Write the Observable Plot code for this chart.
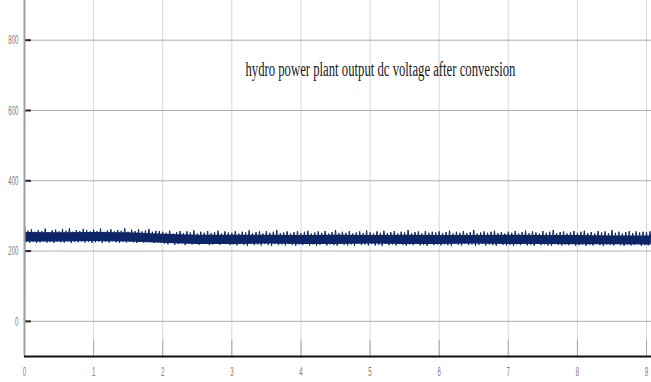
<!DOCTYPE html>
<html>
<head>
<meta charset="utf-8">
<script src="https://cdn.jsdelivr.net/npm/d3@7"></script>
<script src="https://cdn.jsdelivr.net/npm/@observablehq/plot@0.6"></script>
<style>
  html, body { margin: 0; padding: 0; background: #fff; }
  #chart svg { display: block; -webkit-font-smoothing: antialiased; }
</style>
</head>
<body>
<div id="chart"></div>
<script>
// ---- data ----
const titleText = "hydro power plant output dc voltage after conversion";
const xTicks = [0, 1, 2, 3, 4, 5, 6, 7, 8, 9];
const yTicks = [0, 200, 400, 600, 800];

// start-up transient (time s, voltage V)
const startT = [0, 0.004];
const startV = [0, 270];

// dense core of the ripple band (time, lower edge, upper edge)
const coreT    = [0, 0.5, 1, 1.5, 2, 2.5, 3, 3.5, 4, 4.5, 5, 5.5, 6, 6.5, 7, 7.5, 8, 8.5, 9, 9.07];
const coreLow  = [226, 226, 227, 226, 222, 219, 219, 220, 219, 219, 220, 219, 219, 220, 219, 219, 218, 218, 217, 217];
const coreHigh = [253, 252, 253, 252, 248, 245, 245, 245, 244, 245, 244, 245, 244, 244, 245, 244, 244, 243, 243, 243];

// ripple: one peak every 0.05 s from t = 0, one trough half-way between
const rippleStep = 0.05;
const ripplePeak = [
  268,258,262,255,260,257,264,254,259,261,256,263,258,265,255,260,257,263,259,256,
  261,257,264,255,259,262,256,260,258,265,255,261,257,262,256,259,263,255,258,257,
  255,252,258,250,254,257,251,256,253,259,250,255,252,257,251,254,258,250,256,253,
  252,257,250,255,253,259,251,254,256,250,257,252,255,260,251,253,256,250,254,257,
  251,255,258,250,253,256,252,257,250,254,260,251,255,252,257,250,253,256,251,259,
  253,250,256,252,258,251,254,257,250,255,253,260,251,254,256,250,257,252,255,253,
  256,251,254,258,250,255,252,257,251,254,260,250,253,256,252,255,258,251,254,250,
  255,252,257,250,254,258,251,256,253,250,257,252,255,260,251,254,256,250,253,257,
  252,255,258,251,254,250,257,253,256,251,260,252,255,250,254,257,251,256,253,255,
  254,256
];
const rippleTrough = [
  226,224,227,223,225,228,224,226,223,227,225,224,228,223,226,225,227,224,226,223,
  225,227,223,226,224,228,225,223,227,224,226,225,223,227,224,226,228,223,225,224,
  221,219,223,218,220,222,217,221,219,223,218,220,222,217,219,221,218,222,220,217,
  219,216,220,218,215,221,217,219,216,220,218,215,221,217,219,216,220,218,215,219,
  217,220,216,219,215,218,221,216,219,217,215,220,218,216,219,215,221,217,219,216,
  220,216,218,215,221,217,219,216,220,218,215,219,217,221,216,218,215,220,217,219,
  216,219,217,215,220,218,216,221,217,219,215,218,220,216,219,217,215,221,218,216,
  218,215,219,217,221,216,218,215,220,217,219,216,215,220,218,216,219,217,221,215,
  217,219,215,218,216,220,217,215,219,218,216,221,217,215,219,216,218,220,215,217,
  216,218
];

// ---- tables built from the arrays ----
const core = coreT.map((t, i) => ({t, lo: coreLow[i], hi: coreHigh[i]}));
const ripple = ripplePeak.flatMap((v, i) => [
  {t: i * rippleStep, v},
  {t: i * rippleStep + rippleStep / 2, v: rippleTrough[i]}
]);
const start = startT.map((t, i) => ({t, v: startV[i]}));

const navy = "#0b2566";

const svg = Plot.plot({
  width: 651,
  height: 382,
  marginLeft: 24,
  marginRight: 0,
  marginTop: 0,
  marginBottom: 26,
  style: {fontFamily: "Liberation Sans, Arial, sans-serif", background: "#fff"},
  x: {domain: [0, 9.072], axis: null},
  y: {domain: [-100, 913], axis: null},
  marks: [
    Plot.gridX(xTicks, {stroke: "#d6d6d6", strokeOpacity: 1, strokeWidth: 1}),
    Plot.gridY(yTicks, {stroke: "#aeaeae", strokeOpacity: 1, strokeWidth: 1}),
    // x tick marks rising from the bottom axis
    Plot.ruleX(xTicks, {x: d => d, y1: -100, y2: -55, stroke: "#a6a6a6", strokeWidth: 1}),
    // y tick marks pointing inward
    Plot.ruleY(yTicks, {y: d => d, x1: 0, x2: 0.1, stroke: "#222", strokeWidth: 2}),
    // signal
    Plot.areaY(core, {x: "t", y1: "lo", y2: "hi", fill: navy}),
    Plot.line(ripple, {x: "t", y: "v", stroke: navy, strokeWidth: 1}),
    Plot.line(start, {x: "t", y: "v", stroke: "#3f63b0", strokeWidth: 1.2}),
    // axes lines
    Plot.ruleX([0], {stroke: "#a0a0a0", strokeWidth: 2}),
    Plot.ruleY([-100], {stroke: "#111", strokeWidth: 2}),
    // tick labels
    Plot.text(xTicks, {x: d => d, frameAnchor: "bottom", dy: 19, text: d => String(d),
      fill: "#7a7a7a", fontSize: 13}),
    Plot.text(yTicks, {y: d => d, frameAnchor: "left", dx: -6, textAnchor: "end", text: d => String(d),
      fill: "#7a7a7a", fontSize: 13}),
    // in-plot title
    Plot.text([titleText], {x: 5.15, y: 717, text: d => d, fill: "#1a1a1a", fontSize: 20,
      fontFamily: "Liberation Serif, Times New Roman, serif"})
  ]
});

// condense the texts like the reference image
d3.select(svg).selectAll("text").each(function () {
  const s = this.textContent;
  if (s === titleText) {
    this.setAttribute("textLength", 270);
    this.setAttribute("lengthAdjust", "spacingAndGlyphs");
  } else if (/^\d+$/.test(s)) {
    this.setAttribute("textLength", (s.length * 3.4).toFixed(1));
    this.setAttribute("lengthAdjust", "spacingAndGlyphs");
  }
});

document.getElementById("chart").appendChild(svg);
</script>
</body>
</html>
